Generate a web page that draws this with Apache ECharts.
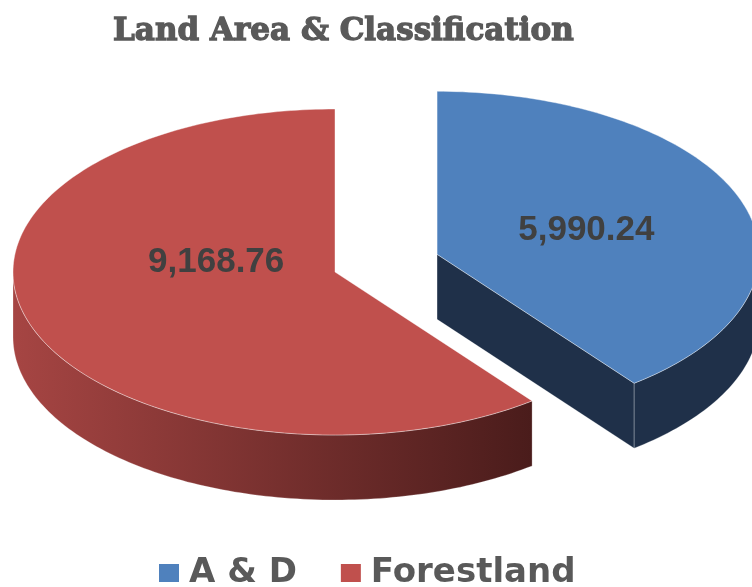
<!DOCTYPE html>
<html><head><meta charset="utf-8">
<script src="https://cdn.jsdelivr.net/npm/echarts@6/dist/echarts.min.js"></script>
<style>html,body{margin:0;padding:0;background:#fff}#c{width:752px;height:587px}</style>
</head><body><div id="c"></div>
<script>
// ---- data ----
const categories = ['A & D', 'Forestland'];
const values = [5990.24, 9168.76];
const chartTitle = 'Land Area & Classification';

// ---- layout / style ----
const PIE = { cx: 335, cy: 272, rx: 322, ry: 163, depth: 65 };
const explode = [0.335, 0];
const topColors = ['#4F81BD', '#C0504D'];
const sideColors = [['#1F3049', '#1F3049'], ['#A64543', '#4A1C1B']];
const labelLayout = [[0.49, 2], [0.39, -30]];

function fmt(v) {
  const s = v.toFixed(2).split('.');
  return s[0].replace(/\B(?=(\d{3})+(?!\d))/g, ',') + '.' + s[1];
}
const total = values.reduce((a, b) => a + b, 0);

function makeRender(si) {
  return function (params, api) {
    const v = api.value(0);
    let before = 0;
    for (let k = 0; k < si; k++) before += values[k];
    const s = before / total * Math.PI * 2;
    const e = (before + v) / total * Math.PI * 2;
    const mid = (s + e) / 2;
    const cx = PIE.cx + explode[si] * PIE.rx * Math.sin(mid);
    const cy = PIE.cy - explode[si] * PIE.ry * Math.cos(mid);
    const pt = (t, dz) => [cx + PIE.rx * Math.sin(t), cy - PIE.ry * Math.cos(t) + dz];
    const arc = (a0, a1, dz) => {
      const n = Math.max(2, Math.ceil(Math.abs(a1 - a0) / 0.02));
      const out = [];
      for (let i = 0; i <= n; i++) out.push(pt(a0 + (a1 - a0) * i / n, dz));
      return out;
    };
    const D = PIE.depth;
    const children = [];
    const sideFill = {
      type: 'linear', x: 0, y: 0, x2: 1, y2: 0,
      colorStops: [{ offset: 0, color: sideColors[si][0] }, { offset: 1, color: sideColors[si][1] }]
    };
    if (Math.sin(s) < -1e-6) {
      children.push({ type: 'polygon', shape: { points: [[cx, cy], pt(s, 0), pt(s, D), [cx, cy + D]] },
        style: { fill: sideColors[si][0], stroke: 'rgba(255,255,255,0.35)', lineWidth: 0.7 } });
    }
    if (Math.sin(e) > 1e-6) {
      children.push({ type: 'polygon', shape: { points: [[cx, cy], pt(e, 0), pt(e, D), [cx, cy + D]] },
        style: { fill: sideColors[si][0], stroke: 'rgba(255,255,255,0.35)', lineWidth: 0.7 } });
    }
    const w0 = Math.max(s, Math.PI / 2), w1 = Math.min(e, Math.PI * 1.5);
    if (w1 > w0) {
      const pts = arc(w0, w1, 0).concat(arc(w1, w0, D));
      children.push({ type: 'polygon', shape: { points: pts },
        style: { fill: sideFill, stroke: 'rgba(255,255,255,0.35)', lineWidth: 0.7 } });
    }
    const topPts = [[cx, cy]].concat(arc(s, e, 0));
    children.push({ type: 'polygon', shape: { points: topPts },
      style: { fill: topColors[si], stroke: 'rgba(255,255,255,0.5)', lineWidth: 0.8 } });
    const lr = labelLayout[si];
    children.push({ type: 'text', style: {
      text: fmt(v), x: cx + lr[0] * PIE.rx * Math.sin(mid), y: cy - lr[0] * PIE.ry * Math.cos(mid) + lr[1],
      align: 'center', verticalAlign: 'middle',
      font: 'bold 35px "Liberation Sans", Arial, sans-serif', fill: '#404040' } });
    return { type: 'group', children: children };
  };
}

const chart = echarts.init(document.getElementById('c'));
chart.setOption({
  animation: false,
  title: { text: chartTitle, left: 113, top: 16, padding: 0,
    textStyle: { fontFamily: '"DejaVu Serif", serif', fontWeight: 'bold', fontSize: 31, color: '#595959',
      textBorderColor: '#595959', textBorderWidth: 1.3 } },
  legend: { data: categories, left: 159, top: 556, padding: 0, itemGap: 44, itemWidth: 20, itemHeight: 18,
    icon: 'rect',
    textStyle: { fontFamily: '"DejaVu Sans"', fontWeight: 'bold', fontSize: 34, color: '#595959', padding: [0, 0, 0, 5] } },
  series: categories.map((name, i) => ({
    type: 'custom', name: name, coordinateSystem: 'none',
    itemStyle: { color: topColors[i] },
    renderItem: makeRender(i),
    data: [values[i]]
  }))
});
</script></body></html>
